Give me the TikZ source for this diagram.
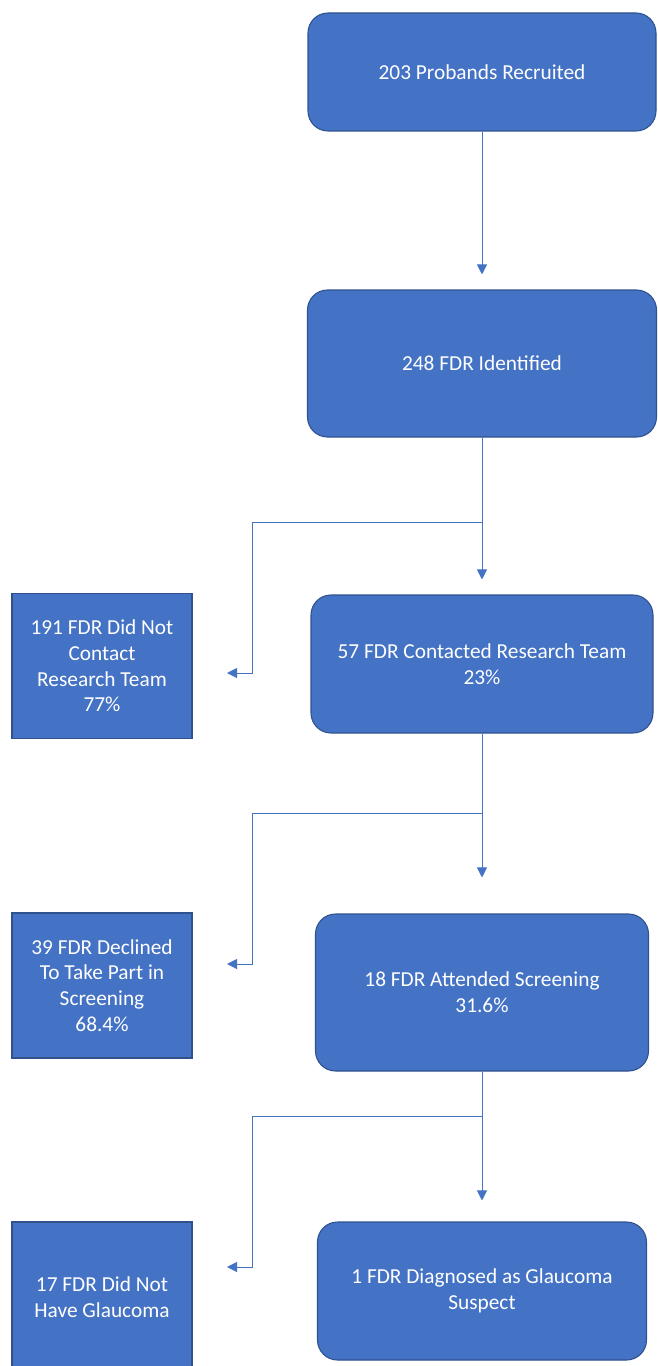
\documentclass[tikz,border=0pt]{standalone}
\usepackage{fontspec}
\setmainfont{Carlito}
\usetikzlibrary{arrows.meta}
\definecolor{boxfill}{HTML}{4472C4}
\definecolor{boxline}{HTML}{2F528F}
\definecolor{conncol}{HTML}{4472C4}
\begin{document}
\begin{tikzpicture}[x=0.75pt,y=-0.75pt,
  font=\fontsize{16}{19.3}\selectfont,
  flowbox/.style={draw=boxline, line width=0.8pt, fill=boxfill, text=white, align=center, rounded corners=15pt, inner sep=0pt},
  sidebox/.style={draw=boxline, line width=0.8pt, fill=boxfill, text=white, align=center, inner sep=0pt},
  conn/.style={draw=conncol, line width=0.75pt},
  arr/.style={conn, -{Triangle[width=7.5pt,length=7.5pt]}}]
\useasboundingbox (0,0) rectangle (657,1366);
\clip (0,0) rectangle (657,1366);
% main boxes
\node[flowbox, minimum width=348*0.75pt, minimum height=118*0.75pt] (b1) at (482,72) {203 Probands Recruited};
\node[flowbox, minimum width=349*0.75pt, minimum height=147*0.75pt] (b2) at (482,363.5) {248 FDR Identified};
\node[flowbox, minimum width=342*0.75pt, minimum height=138*0.75pt] (b3) at (482,664) {57 FDR Contacted Research Team\\23\%};
\node[flowbox, minimum width=333*0.75pt, minimum height=157*0.75pt] (b4) at (482,992.5) {18 FDR Attended Screening\\31.6\%};
\node[flowbox, minimum width=329*0.75pt, minimum height=138*0.75pt] (b5) at (482,1291) {1 FDR Diagnosed as Glaucoma\\Suspect};
% side boxes
\node[sidebox, minimum width=180*0.75pt, minimum height=145*0.75pt] (l1) at (102,666) {191 FDR Did Not\\Contact\\Research Team\\77\%};
\node[sidebox, minimum width=180*0.75pt, minimum height=145*0.75pt] (l2) at (102,985.5) {39 FDR Declined\\To Take Part in\\Screening\\68.4\%};
\node[sidebox, minimum width=180*0.75pt, minimum height=150*0.75pt] (l3) at (102,1297) {17 FDR Did Not\\Have Glaucoma};
% junctions and free ends
\coordinate (j1) at (482,522);
\coordinate (k1) at (252,522);
\coordinate (m1) at (252,673);
\coordinate (e1) at (227,673);
\coordinate (j2) at (482,813);
\coordinate (k2) at (252,813);
\coordinate (m2) at (252,964);
\coordinate (e2) at (227,964);
\coordinate (j3) at (482,1116);
\coordinate (k3) at (252,1116);
\coordinate (m3) at (252,1267);
\coordinate (e3) at (227,1267);
% connectors
\draw[arr, shorten >=11.25pt] (b1.south) -- (b2.north);
\draw[conn] (b2.south) -- (j1);
\draw[arr, shorten >=11.25pt] (j1) -- (b3.north);
\draw[arr] (j1) -- (k1) -- (m1) -- (e1);
\draw[conn] (b3.south) -- (j2);
\draw[arr, shorten >=27pt] (j2) -- (b4.north);
\draw[arr] (j2) -- (k2) -- (m2) -- (e2);
\draw[conn] (b4.south) -- (j3);
\draw[arr, shorten >=15.75pt] (j3) -- (b5.north);
\draw[arr] (j3) -- (k3) -- (m3) -- (e3);
\end{tikzpicture}
\end{document}
